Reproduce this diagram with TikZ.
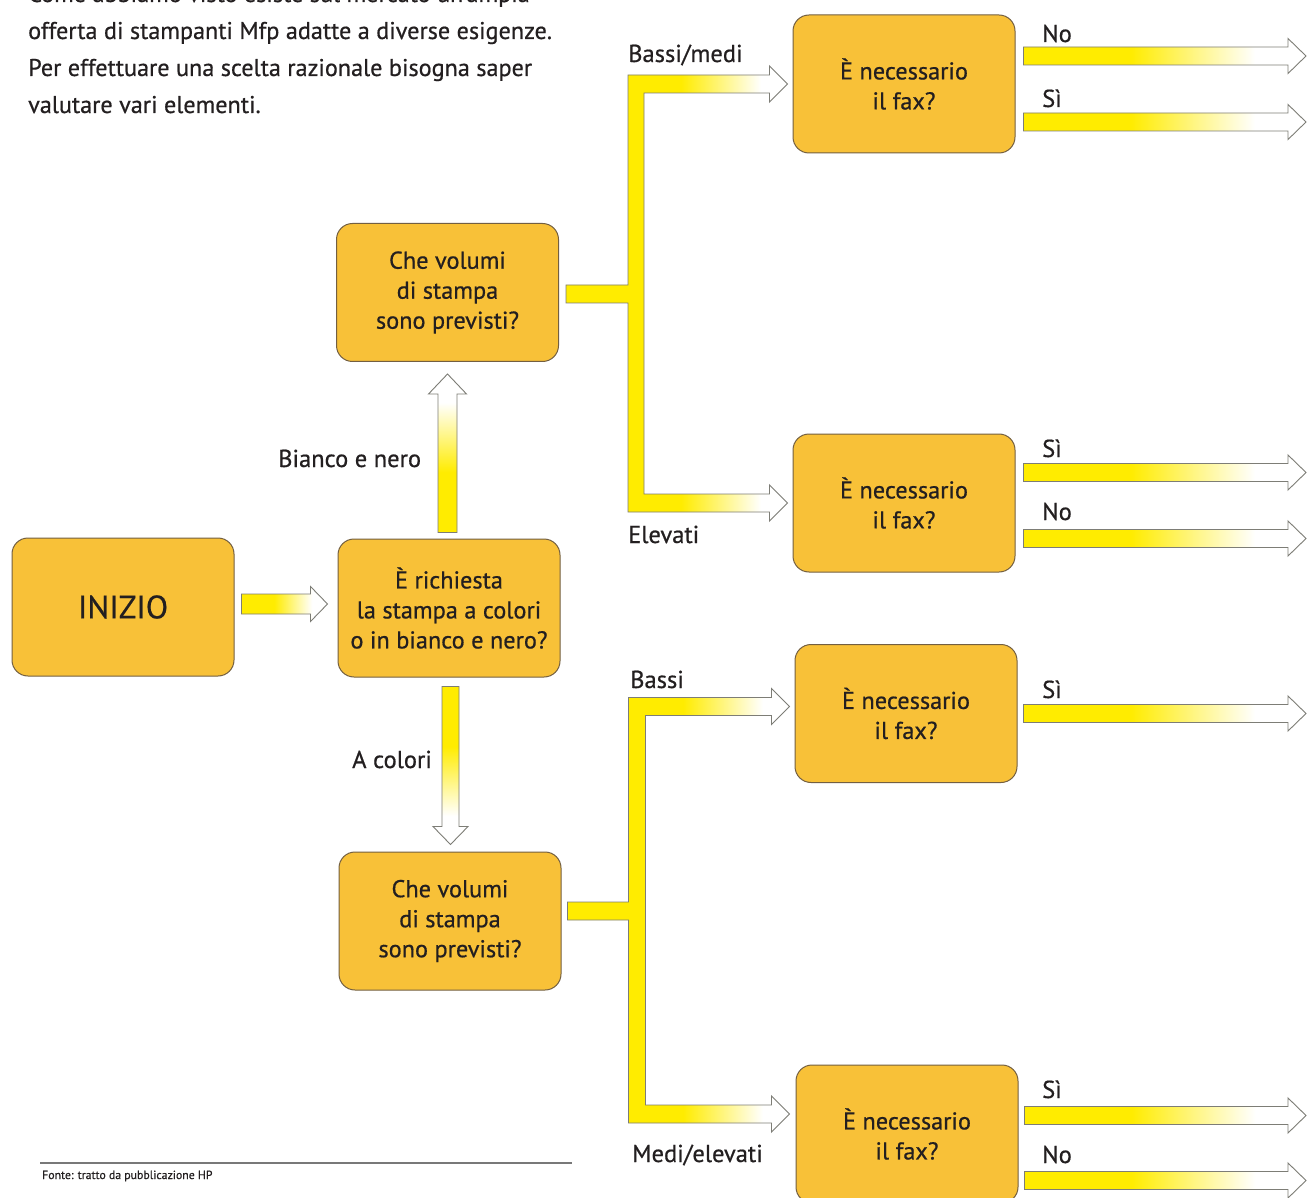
\documentclass[tikz,border=0pt]{standalone}
\usepackage{fontspec}
\setmainfont{PT Sans}[FakeBold=0.6]
\usetikzlibrary{calc}
\definecolor{ayel}{RGB}{255,236,0}
\colorlet{pyel}{ayel!45!white}
\definecolor{boxfill}{RGB}{248,193,56}
\definecolor{boxline}{RGB}{115,95,65}
\definecolor{arrline}{RGB}{125,125,118}
\definecolor{txt}{RGB}{35,31,32}
\definecolor{rule}{RGB}{120,120,120}
\pgfdeclarehorizontalshading{rfade}{100bp}{color(0bp)=(ayel); color(44bp)=(ayel); color(56bp)=(pyel); color(66bp)=(white); color(100bp)=(white)}
\pgfdeclarehorizontalshading{bfade}{100bp}{color(0bp)=(ayel); color(51bp)=(ayel); color(61bp)=(pyel); color(69bp)=(white); color(100bp)=(white)}
% horizontal arrow: #1 shading, #2 start, #3 point giving tip x, #4 half shaft, #5 half head, #6 head length
\newcommand\harr[6]{\shade[arr, shading=#1] let \p1=#2, \p2=#3 in
  (\x1,\y1+#4) -- (\x2-#6,\y1+#4) -- (\x2-#6,\y1+#5) -- (\x2,\y1) -- (\x2-#6,\y1-#5) -- (\x2-#6,\y1-#4) -- (\x1,\y1-#4) -- cycle;}
% upward arrow
\newcommand\uarr[5]{\shade[arr, shading=rfade, shading angle=90] let \p1=#1, \p2=#2 in
  (\x1-#3,\y1) -- (\x1-#3,\y2-#5) -- (\x1-#4,\y2-#5) -- (\x1,\y2) -- (\x1+#4,\y2-#5) -- (\x1+#3,\y2-#5) -- (\x1+#3,\y1) -- cycle;}
% downward arrow
\newcommand\darr[5]{\shade[arr, shading=rfade, shading angle=-90] let \p1=#1, \p2=#2 in
  (\x1-#3,\y1) -- (\x1-#3,\y2+#5) -- (\x1-#4,\y2+#5) -- (\x1,\y2) -- (\x1+#4,\y2+#5) -- (\x1+#3,\y2+#5) -- (\x1+#3,\y1) -- cycle;}
% bracket: #1 stem start (centre), #2 top tip, #3 bottom tip, #4 bar left offset, #5 bar width
\newcommand\brk[5]{\shade[arr, shading=bfade] let \p1=#1, \p2=#2, \p3=#3 in
  (\x1,\y1+9pt) -- (\x1+#4,\y1+9pt) -- (\x1+#4,\y2+9pt) -- (\x2-18pt,\y2+9pt) -- (\x2-18pt,\y2+18pt) -- (\x2,\y2)
  -- (\x2-18pt,\y2-18pt) -- (\x2-18pt,\y2-9pt) -- (\x1+#4+#5,\y2-9pt) -- (\x1+#4+#5,\y3+9pt)
  -- (\x3-18pt,\y3+9pt) -- (\x3-18pt,\y3+18pt) -- (\x3,\y3) -- (\x3-18pt,\y3-18pt) -- (\x3-18pt,\y3-9pt)
  -- (\x1+#4,\y3-9pt) -- (\x1+#4,\y1-9pt) -- (\x1,\y1-9pt) -- cycle;}
\begin{document}
\begin{tikzpicture}[x=1pt,y=-1pt,
  every node/.style={text=txt},
  qbox/.style={draw=boxline, line width=1pt, fill=boxfill, rounded corners=16pt,
    minimum width=222pt, minimum height=138pt, align=center, inner sep=0pt,
    font=\fontsize{24.3}{30}\selectfont},
  lab/.style={anchor=base west, inner sep=0pt, font=\fontsize{24.5}{28}\selectfont},
  body/.style={anchor=base west, inner sep=0pt, font=\fontsize{24.2}{37}\selectfont},
  arr/.style={draw=arrline, line width=0.9pt, line join=miter}]
\useasboundingbox (0,0) rectangle (1307,1198);
\begin{scope}
\clip (0,0) rectangle (1307,1198);
\fill[white] (0,0) rectangle (1307,1198);

% intro text
\node[body] (t0) at (28,2) {Come abbiamo visto esiste sul mercato un’ampia};
\node[body] (t1) at (28,39) {offerta di stampanti Mfp adatte a diverse esigenze.};
\node[body] (t2) at (28,76) {Per effettuare una scelta razionale bisogna saper};
\node[body] (t3) at (28,113) {valutare vari elementi.};

% boxes
\node[qbox, font=\fontsize{32.5}{34}\selectfont] (inizio) at (123,607) {INIZIO};
\node[qbox] (q1) at (449,608) {È richiesta\\la stampa a colori\\o in bianco e nero?};
\node[qbox] (vbw) at (447.5,292.5) {Che volumi\\di stampa\\sono previsti?};
\node[qbox] (vcol) at (450,921) {Che volumi\\di stampa\\sono previsti?};
\node[qbox] (f1) at (904,84) {È necessario\\il fax?};
\node[qbox] (f2) at (904,503) {È necessario\\il fax?};
\node[qbox] (f3) at (906,713.5) {È necessario\\il fax?};
\node[qbox] (f4) at (907,1134) {È necessario\\il fax?};

% connectors
\harr{rfade}{($(inizio.east)+(7,-3)$)}{($(q1.west)+(-10,0)$)}{10pt}{17.5pt}{17pt}
\uarr{($(q1.north)+(-1.5,-6)$)}{($(vbw.south)+(0,12)$)}{9.5pt}{19pt}{20pt}
\darr{($(q1.south)+(1.5,9)$)}{($(vcol.north)+(0,-7)$)}{8.5pt}{17.5pt}{18pt}
\brk{($(vbw.east)+(7,1.5)$)}{($(f1.west)+(-5,0)$)}{($(f2.west)+(-5,0)$)}{62pt}{16pt}
\brk{($(vcol.east)+(6,-10)$)}{($(f3.west)+(-5,-7)$)}{($(f4.west)+(-6,-20)$)}{61pt}{17pt}

\coordinate (edge) at (1306,0);
\harr{rfade}{($(f1.east)+(8,-28)$)}{(edge)}{9pt}{17.5pt}{18pt}
\harr{rfade}{($(f1.east)+(8,38)$)}{(edge)}{9pt}{17.5pt}{18pt}
\harr{rfade}{($(f2.east)+(8,-30.5)$)}{(edge)}{9pt}{17.5pt}{18pt}
\harr{rfade}{($(f2.east)+(8,35.5)$)}{(edge)}{9pt}{17.5pt}{18pt}
\harr{rfade}{($(f3.east)+(6,0)$)}{(edge)}{9pt}{17.5pt}{18pt}
\harr{rfade}{($(f4.east)+(6,-18.5)$)}{(edge)}{9pt}{17.5pt}{18pt}
\harr{rfade}{($(f4.east)+(6,46.5)$)}{(edge)}{9pt}{17.5pt}{18pt}

% labels
\node[lab] (l1) at (1042,42) {No};
\node[lab] (l2) at (1042,107) {Sì};
\node[lab] (l3) at (1042,457) {Sì};
\node[lab] (l4) at (1042,520) {No};
\node[lab] (l5) at (1042,698) {Sì};
\node[lab] (l6) at (1042,1098) {Sì};
\node[lab] (l7) at (1042,1163) {No};
\node[lab] (b1) at (628,62) {Bassi/medi};
\node[lab] (b2) at (628,543) {Elevati};
\node[lab] (b3) at (630,688) {Bassi};
\node[lab] (b4) at (632,1162) {Medi/elevati};
\node[lab] (b5) at (278,467) {Bianco e nero};
\node[lab] (b6) at (352,768) {A colori};

% footer
\coordinate (fl) at (40,1163);
\coordinate (fr) at (572,1163);
\draw[rule, line width=1.2pt] (fl) -- (fr);
\node[anchor=base west, inner sep=0pt, font=\fontsize{11.8}{13}\selectfont] (src) at (42,1179) {Fonte: tratto da pubblicazione HP};
\end{scope}
\end{tikzpicture}
\end{document}
